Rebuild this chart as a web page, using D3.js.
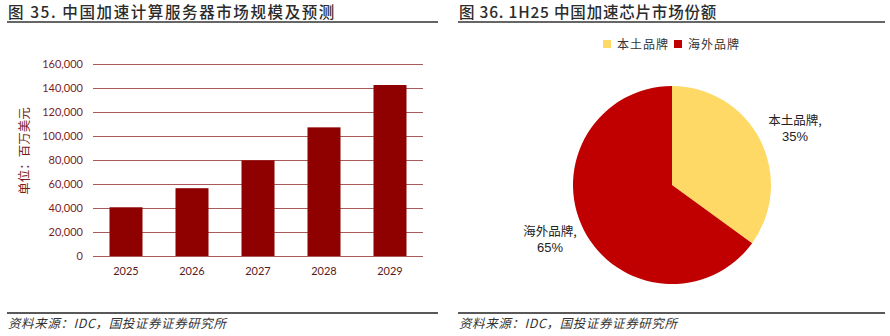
<!DOCTYPE html>
<html>
<head>
<meta charset="utf-8">
<script src="https://cdn.jsdelivr.net/npm/d3@7"></script>
<style>
  html, body { margin: 0; padding: 0; background: #fff; }
  svg { display: block; }
</style>
</head>
<body>
<svg id="chart" width="890" height="336"></svg>
<script>
// Accelerated computing server market, China (USD million)
const years = ["2025", "2026", "2027", "2028", "2029"];
const serverMarket = [40600, 56500, 79700, 107200, 142500];
const yTicks = [0, 20000, 40000, 60000, 80000, 100000, 120000, 140000, 160000];

// 1H25 accelerator chip market share, China
const brands = ["本土品牌", "海外品牌"];
const shares = [35, 65];
const brandColors = ["#FFD966", "#C00000"];

const svg = d3.select("#chart");
const cjk = "'Noto Sans CJK SC', 'Noto Sans', sans-serif";
const latin = "Lato, 'Open Sans', 'Noto Sans', sans-serif";

// ---- panel headers and footers ----
const panels = [
  { x0: 7, x1: 438, spacing: 1.6, title: "图 35. 中国加速计算服务器市场规模及预测" },
  { x0: 458, x1: 885, spacing: 0.8, title: "图 36. 1H25 中国加速芯片市场份额" }
];
panels.forEach(p => {
  svg.append("text")
    .attr("x", p.x0 + 1).attr("y", 18)
    .attr("font-family", cjk).attr("font-size", 15.5).attr("font-weight", 500)
    .attr("letter-spacing", p.spacing)
    .attr("fill", "#2b2b2b")
    .text(p.title);
  svg.append("line")
    .attr("x1", p.x0).attr("x2", p.x1).attr("y1", 22).attr("y2", 22)
    .attr("stroke", "#333").attr("stroke-width", 1.5);
  svg.append("line")
    .attr("x1", p.x0).attr("x2", p.x1).attr("y1", 313).attr("y2", 313)
    .attr("stroke", "#222").attr("stroke-width", 1.5);
  svg.append("text")
    .attr("x", p.x0 + 1).attr("y", 328)
    .attr("font-family", cjk).attr("font-size", 12.5).attr("font-style", "italic")
    .attr("letter-spacing", 0.6)
    .attr("fill", "#333")
    .text("资料来源：IDC，国投证券证券研究所");
});

// ---- bar chart ----
const x = d3.scaleBand().domain(years).range([93, 423])
  .paddingInner(0.5).paddingOuter(0.25);
const y = d3.scaleLinear().domain([0, 160000]).range([256, 64]);

const yAxis = svg.append("g")
  .attr("transform", "translate(93,0)")
  .call(d3.axisLeft(y).tickValues(yTicks).tickSize(-330).tickPadding(10)
    .tickFormat(d3.format(",")));
yAxis.select(".domain").remove();
yAxis.selectAll(".tick line").attr("stroke", "#a85a5a").attr("stroke-width", 1);
yAxis.selectAll(".tick text")
  .attr("font-family", latin).attr("font-size", 11).attr("fill", "#7a1e1e");

svg.append("g").selectAll("rect")
  .data(serverMarket)
  .join("rect")
  .attr("x", (d, i) => x(years[i]))
  .attr("y", d => y(d))
  .attr("width", x.bandwidth())
  .attr("height", d => y(0) - y(d))
  .attr("fill", "#8f0000");

const xAxis = svg.append("g")
  .attr("transform", "translate(0,256)")
  .call(d3.axisBottom(x).tickSize(0).tickPadding(11));
xAxis.select(".domain").remove();
xAxis.selectAll(".tick text")
  .attr("font-family", latin).attr("font-size", 11).attr("fill", "#5a1a1a");

svg.append("text")
  .attr("transform", "translate(29,151) rotate(-90)")
  .attr("text-anchor", "middle")
  .attr("font-family", cjk).attr("font-size", 12.5)
  .attr("fill", "#7a1e1e")
  .text("单位：百万美元");

// ---- pie chart ----
const cx = 672, cy = 185, r = 99;
const pie = d3.pie().sort(null).value(d => d)(shares);
const arc = d3.arc().innerRadius(0).outerRadius(r);
svg.append("g").attr("transform", `translate(${cx},${cy})`)
  .selectAll("path")
  .data(pie)
  .join("path")
  .attr("d", arc)
  .attr("fill", (d, i) => brandColors[i]);

// legend
const legendItems = [{ x: 603 }, { x: 674 }];
legendItems.forEach((l, i) => {
  svg.append("rect")
    .attr("x", l.x).attr("y", 40).attr("width", 8).attr("height", 8)
    .attr("fill", brandColors[i]);
  svg.append("text")
    .attr("x", l.x + 14).attr("y", 48.5)
    .attr("font-family", cjk).attr("font-size", 12).attr("fill", "#333")
    .attr("letter-spacing", 1)
    .text(brands[i]);
});

// slice labels
const labelPos = [{ x: 795, y: 125 }, { x: 550, y: 236 }];
labelPos.forEach((p, i) => {
  const t = svg.append("text")
    .attr("text-anchor", "middle")
    .attr("font-size", 12.5).attr("fill", "#222");
  t.append("tspan").attr("x", p.x).attr("y", p.y)
    .attr("font-family", cjk).text(brands[i] + ",");
  t.append("tspan").attr("x", p.x).attr("y", p.y + 16)
    .attr("font-family", "'Liberation Sans', Arial, sans-serif").attr("font-size", 13)
    .text(shares[i] + "%");
});
</script>
</body>
</html>
